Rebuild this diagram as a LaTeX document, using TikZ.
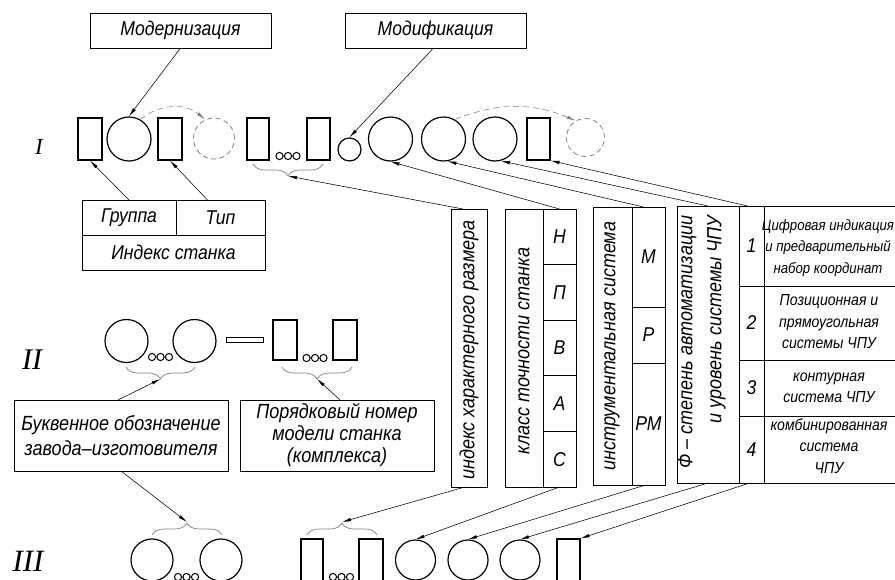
\documentclass[tikz,border=0pt]{standalone}
\usepackage{fontspec}
\usetikzlibrary{positioning,arrows.meta,decorations.pathreplacing}
\newfontfamily\gost{Liberation Sans}[FakeStretch=0.88]
\newfontfamily\romfont{Liberation Serif}
\newcommand{\gsz}[2]{\gost\itshape\fontsize{#1}{#2}\selectfont}
\newcommand{\trio}[2]{\draw[line width=1pt] (#1-8.5,#2) circle (3.6) (#1,#2) circle (3.6) (#1+8.5,#2) circle (3.6);}
\tikzset{
  slot/.style={draw, line width=1.2pt, inner sep=0pt, minimum width=24pt, minimum height=42pt},
  ring/.style={draw, circle, line width=1.2pt, inner sep=0pt, minimum size=44pt},
  ghost/.style={draw=gray, circle, line width=0.8pt, dash pattern=on 5pt off 3.5pt, inner sep=0pt},
  lbox/.style={draw, line width=0.9pt, inner sep=0pt, outer sep=0pt, align=center, font=\gsz{20}{22}},
  cell/.style={draw, line width=0.8pt, inner sep=0pt, outer sep=0pt, font=\gsz{20}{22}},
  vtxt/.style={rotate=90, inner sep=0pt, font=\gsz{20.5}{29}},
  dtxt/.style={inner sep=0pt, align=center, font=\gsz{16}{21.5}},
  arr/.style={-{Latex[length=9pt,width=3.4pt]}, line width=0.55pt},
  darr/.style={arr, gray, dash pattern=on 6pt off 4pt},
  brc/.style={decorate, decoration={brace, amplitude=12pt}, gray, line width=0.7pt},
  rom/.style={inner sep=0pt}
}
\begin{document}
\begin{tikzpicture}[x=1pt,y=-1pt]
\useasboundingbox (0,0) rectangle (895,579);
% row numbers
\node[rom, font=\romfont\itshape\fontsize{23}{23}\selectfont] (romI) at (39,147) {I};
\node[rom, font=\romfont\itshape\fontsize{30}{30}\selectfont] (romII) at (32,360) {II};
\node[rom, font=\romfont\itshape\fontsize{31}{31}\selectfont] (romIII) at (28,561) {III};

%% row I
\node[slot] (rI1) at (90,139) {};
\node[ring] (cI1) at (129,139) {};
\node[slot] (rI2) at (170,139) {};
\node[ghost, minimum size=41pt] (gI1) at (214,138.5) {};
\node[slot, minimum width=22pt] (rI3) at (258,139) {};
\trio{288}{156}
\node[slot, minimum width=23pt] (rI4) at (318.5,139) {};
\node[ring, minimum size=23pt] (sm) at (349.5,149.5) {};
\node[ring] (cI2) at (390.5,139) {};
\node[ring] (cI3) at (443.5,139) {};
\node[ring] (cI4) at (495,139) {};
\node[slot, minimum width=23pt] (rI5) at (538.5,139) {};
\node[ghost, minimum size=38pt] (gI2) at (585.5,137.5) {};
\draw[brc] (323,164) -- (253,164);
\coordinate (tipI) at (288,176);

%the label boxes
\node[lbox, minimum width=181pt, minimum height=35pt] (md) at (180.5,30.5) {Модернизация};
\node[lbox, minimum width=181pt, minimum height=35pt] (mf) at (435.5,30.5) {Модификация};
\node[lbox, minimum width=94pt, minimum height=35pt] (grp) at (129,217.5) {Группа};
\node[lbox, minimum width=89pt, minimum height=35pt, right=0pt of grp] (typ) {Тип};
\node[lbox, minimum width=183pt, minimum height=35pt] (idx) at (173.5,252.5) {Индекс станка};

%% row II
\node[ring, minimum size=43pt] (cIIa) at (126.5,341) {};
\trio{160.5}{357}
\node[ring, minimum size=43pt] (cIIb) at (194.5,341) {};
\node[draw, line width=1pt, inner sep=0pt, minimum width=37pt, minimum height=5pt] (bar) at (244.5,339.5) {};
\node[slot, minimum height=40pt] (rIIa) at (285,340) {};
\trio{315}{358}
\node[slot, minimum height=40pt] (rIIb) at (345,340) {};
\draw[brc] (195,367) -- (126,367);
\draw[brc] (352,367) -- (282,367);
\coordinate (tipIIa) at (160.5,379);
\coordinate (tipIIb) at (317,379);
\node[lbox, font=\gsz{20.5}{25}, minimum width=214pt, minimum height=71pt] (bk) at (121,435.5) {Буквенное обозначение\\завода–изготовителя};
\node[lbox, font=\gsz{20.5}{22}, minimum width=194pt, minimum height=71pt] (pn) at (337,435.5) {Порядковый номер\\модели станка\\(комплекса)};

%% row III
\node[ring, minimum size=42pt] (cIIIa) at (152,560) {};
\trio{186.5}{577}
\node[ring, minimum size=42pt] (cIIIb) at (221,560) {};
\node[slot, minimum width=22pt] (rIIIa) at (312,560) {};
\trio{341.5}{577}
\node[slot] (rIIIb) at (371,560) {};
\node[ring, minimum size=40pt] (cIII3) at (415.5,560) {};
\node[ring, minimum size=40pt] (cIII4) at (468,560) {};
\node[ring, minimum size=40pt] (cIII5) at (520,560) {};
\node[slot, minimum width=23pt] (rIII3) at (568.5,560) {};
\draw[brc] (152,535) -- (222,535);
\draw[brc] (307,535) -- (377,535);
\coordinate (tipIIIa) at (187,522);
\coordinate (tipIIIb) at (342,522);

%the vertical tables
\node[lbox, minimum width=36pt, minimum height=278pt] (ksz) at (469,348) {};
\node[vtxt] (kszT) at (469,350) {индекс характерного размера};
\node[lbox, minimum width=71pt, minimum height=278pt] (kls) at (540.5,348) {};
\node[vtxt] (klsT) at (524,351) {класс точности станка};
\node[cell, minimum width=33pt, minimum height=55.6pt] (cH) at (559.5,236.8) {Н};
\node[cell, minimum width=33pt, minimum height=55.6pt, below=0pt of cH] (cP) {П};
\node[cell, minimum width=33pt, minimum height=55.6pt, below=0pt of cP] (cV) {В};
\node[cell, minimum width=33pt, minimum height=55.6pt, below=0pt of cV] (cA) {А};
\node[cell, minimum width=33pt, minimum height=55.6pt, below=0pt of cA] (cS) {С};
\node[lbox, minimum width=72pt, minimum height=278pt] (ins) at (629,346) {};
\node[vtxt] (insT) at (612,346) {инструментальная система};
\node[cell, minimum width=33pt, minimum height=100pt] (cM) at (648.5,257) {М};
\node[cell, minimum width=33pt, minimum height=56pt, below=0pt of cM] (cR) {Р};
\node[cell, minimum width=33pt, minimum height=122pt, below=0pt of cR] (cRM) {РМ};
\node[lbox, minimum width=62pt, minimum height=277pt] (phi) at (708,344.5) {};
\node[vtxt, align=right] (phiT) at (702,342) {Ф – степень автоматизации\\и уровень системы ЧПУ};
\node[cell, minimum width=25pt, minimum height=80pt] (n1) at (751.5,246) {1};
\node[cell, minimum width=25pt, minimum height=74pt, below=0pt of n1] (n2) {2};
\node[cell, minimum width=25pt, minimum height=56pt, below=0pt of n2] (n3) {3};
\node[cell, minimum width=25pt, minimum height=67pt, below=0pt of n3] (n4) {4};
\node[cell, minimum width=140pt, minimum height=80pt, right=0pt of n1] (d1) {};
\node[cell, minimum width=140pt, minimum height=74pt, right=0pt of n2] (d2) {};
\node[cell, minimum width=140pt, minimum height=56pt, right=0pt of n3] (d3) {};
\node[cell, minimum width=140pt, minimum height=67pt, right=0pt of n4] (d4) {};
\node[dtxt, font=\gsz{15}{21.5}] (t1) at (828,248) {Цифровая индикация\\и предварительный\\набор координат};
\node[dtxt] (t2) at (829,322) {Позиционная и\\прямоугольная\\системы ЧПУ};
\node[dtxt] (t3) at (829,388) {контурная\\система ЧПУ};
\node[dtxt] (t4) at (829,446) {комбинированная\\система\\ЧПУ};

%drawings of lines
\draw[arr] (md.south) -- (cI1.north);
\draw[arr] ([xshift=-2pt]mf.south) -- (sm.north);
\draw[darr] (cI1.60) to[bend left=40] (gI1.115);
\draw[darr] (cI3.60) to[bend left=22] (gI2.120);
\draw[arr] (grp.north) -- (rI1.south);
\draw[arr] ([xshift=-13pt]typ.north) -- (rI2.south);

\draw[arr] ([xshift=-6pt]ksz.north) -- (tipI);
\draw[arr] (cH.north) -- (cI2.south);
\draw[arr] ([xshift=-5pt]cM.north) -- (cI3.-80);
\draw[arr] (phi.north) -- (cI4.-75);
\draw[arr] ([xshift=-4pt]n1.north) -- (rI5.south east);

\draw[arr] ([xshift=-3pt]bk.north) -- (tipIIa);
\draw[arr] ([xshift=3pt]pn.north) -- (tipIIb);
\draw[arr] (bk.south) -- (tipIIIa);

\draw[arr] ([xshift=-4pt]ksz.south) -- (tipIIIb);
\draw[arr] (cS.south) -- (cIII3.north);
\draw[arr] ([xshift=-3pt]cRM.south) -- (cIII4.north);
\draw[arr] (phi.south) -- (cIII5.north);
\draw[arr] ([xshift=-2pt]n4.south) -- (rIII3.north east);
\end{tikzpicture}
\end{document}
